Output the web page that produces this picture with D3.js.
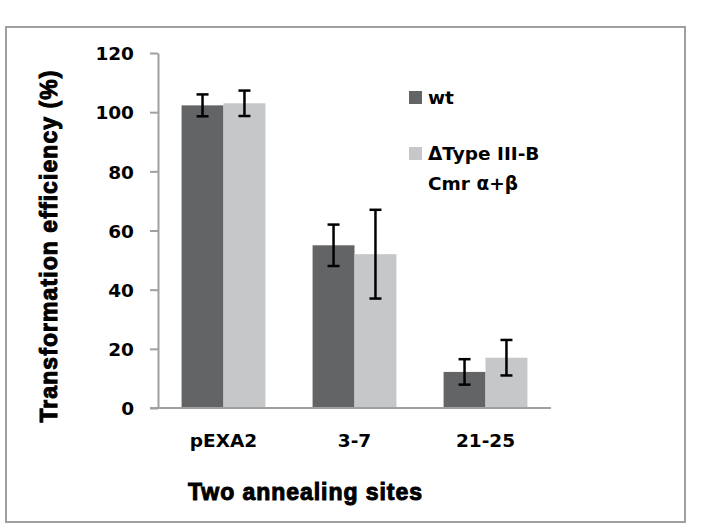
<!DOCTYPE html>
<html>
<head>
<meta charset="utf-8">
<script src="https://cdn.jsdelivr.net/npm/d3@7"></script>
<style>
  body { margin: 0; background: #fff; }
  svg text { fill: #000; }
</style>
</head>
<body>
<svg id="chart" width="707" height="529"></svg>
<script>
// data
const categories = ['pEXA2', '3-7', '21-25'];
const seriesNames = ['wt', 'ΔType III-B|Cmr α+β'];
const wtValues = [102.3, 55, 12.2];
const wtErrors = [3.7, 7, 4.3];
const mutValues = [103, 52, 17];
const mutErrors = [4.3, 15, 6];
const yTicks = [0, 20, 40, 60, 80, 100, 120];
const colors = ['#636466', '#c6c7c9'];

const svg = d3.select('#chart');

// outer frame
svg.append('rect')
  .attr('x', 6).attr('y', 27)
  .attr('width', 679).attr('height', 495)
  .attr('fill', '#fff')
  .attr('stroke', '#a0a0a0')
  .attr('stroke-width', 2);

const plot = { left: 158, right: 551, top: 53, bottom: 408 };

const x = d3.scaleBand()
  .domain(categories)
  .range([plot.left, plot.right])
  .paddingInner(0.36)
  .paddingOuter(0.18);

const xSub = d3.scaleBand()
  .domain(d3.range(seriesNames.length))
  .range([0, x.bandwidth()]);

const y = d3.scaleLinear()
  .domain([0, 120])
  .range([plot.bottom, plot.top]);

const rows = categories.map((c, i) => ({
  cat: c,
  vals: [
    { s: 0, v: wtValues[i], e: wtErrors[i] },
    { s: 1, v: mutValues[i], e: mutErrors[i] }
  ]
}));

// bars
const groups = svg.append('g').attr('class', 'bars')
  .selectAll('g')
  .data(rows)
  .enter()
  .append('g')
  .attr('transform', d => `translate(${x(d.cat)},0)`);

groups.selectAll('rect')
  .data(d => d.vals)
  .enter()
  .append('rect')
  .attr('x', d => xSub(d.s))
  .attr('y', d => y(d.v))
  .attr('width', xSub.bandwidth())
  .attr('height', d => y(0) - y(d.v))
  .attr('fill', d => colors[d.s]);

const labelFont = sel => sel
  .attr('font-family', 'DejaVu Sans')
  .attr('font-weight', 'bold')
  .attr('font-size', 18.5)
  .attr('fill', '#000');

// y axis
const yAxis = svg.append('g')
  .attr('transform', `translate(${plot.left},0)`)
  .call(d3.axisLeft(y).tickValues(yTicks).tickSize(8).tickSizeOuter(0).tickPadding(16));
yAxis.select('.domain').attr('stroke', '#a0a0a0').attr('stroke-width', 2);
yAxis.selectAll('.tick line').attr('stroke', '#a0a0a0').attr('stroke-width', 2);
yAxis.selectAll('.tick text').call(labelFont).attr('dy', '0.36em');

// x axis
const xAxis = svg.append('g')
  .attr('transform', `translate(0,${plot.bottom})`)
  .call(d3.axisBottom(x).tickSize(0).tickSizeOuter(0).tickPadding(26));
xAxis.select('.domain').remove();
xAxis.append('line')
  .attr('x1', plot.left - 8).attr('x2', plot.right)
  .attr('stroke', '#a0a0a0').attr('stroke-width', 2);
xAxis.selectAll('.tick text').call(labelFont);

// error bars
const errs = groups.selectAll('g.err')
  .data(d => d.vals)
  .enter()
  .append('g')
  .attr('class', 'err')
  .attr('stroke', '#000')
  .attr('stroke-width', 2.5);
const cx = d => xSub(d.s) + xSub.bandwidth() / 2;
errs.append('line')
  .attr('x1', cx).attr('x2', cx)
  .attr('y1', d => y(d.v + d.e)).attr('y2', d => y(d.v - d.e));
errs.append('line')
  .attr('x1', d => cx(d) - 6).attr('x2', d => cx(d) + 6)
  .attr('y1', d => y(d.v + d.e)).attr('y2', d => y(d.v + d.e));
errs.append('line')
  .attr('x1', d => cx(d) - 6).attr('x2', d => cx(d) + 6)
  .attr('y1', d => y(d.v - d.e)).attr('y2', d => y(d.v - d.e));

// axis titles
svg.append('text')
  .attr('x', 305).attr('y', 500)
  .attr('text-anchor', 'middle')
  .attr('font-family', 'Liberation Sans')
  .attr('font-weight', 'bold')
  .attr('font-size', 23)
  .attr('stroke', '#000').attr('stroke-width', 1)
  .attr('textLength', 234)
  .text('Two annealing sites');

svg.append('text')
  .attr('transform', 'translate(57,246.5) rotate(-90)')
  .attr('text-anchor', 'middle')
  .attr('font-family', 'Liberation Sans')
  .attr('font-weight', 'bold')
  .attr('font-size', 23)
  .attr('stroke', '#000').attr('stroke-width', 1)
  .attr('textLength', 352)
  .text('Transformation efficiency (%)');

// legend
const legendTop = [91, 147];
const legend = svg.append('g').attr('class', 'legend');
seriesNames.forEach((name, i) => {
  legend.append('rect')
    .attr('x', 409).attr('y', legendTop[i])
    .attr('width', 13).attr('height', 13)
    .attr('fill', colors[i]);
  name.split('|').forEach((line, j) => {
    legend.append('text')
      .attr('x', 428)
      .attr('y', legendTop[i] + 13 + j * 30)
      .call(labelFont)
      .text(line);
  });
});
</script>
</body>
</html>
